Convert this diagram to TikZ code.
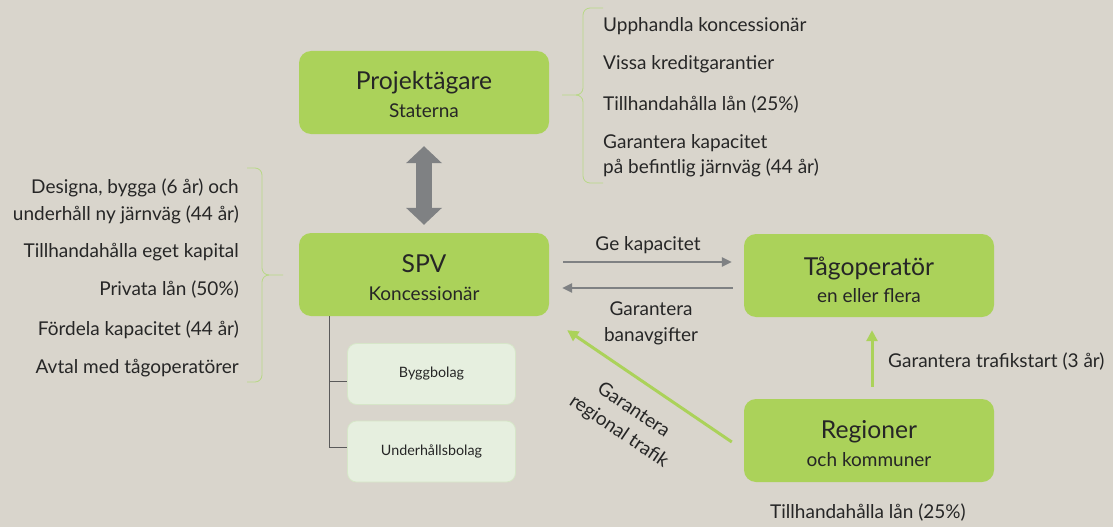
\documentclass[tikz,border=0pt]{standalone}
\usepackage{fontspec}
\setmainfont{Lato}
\usetikzlibrary{arrows.meta}
\definecolor{bgc}{HTML}{D9D5CC}
\definecolor{gfill}{HTML}{ABD25A}
\definecolor{lfill}{HTML}{E6EFDF}
\definecolor{lline}{HTML}{D6E6C8}
\definecolor{arrgray}{HTML}{7F8183}
\definecolor{brc}{HTML}{B8D886}
\definecolor{txt}{HTML}{262626}
\definecolor{treec}{HTML}{5A5A5A}
\tikzset{
  gbox/.style={fill=gfill, rounded corners=12pt, minimum width=250pt, minimum height=83pt, inner sep=0pt},
  lbox/.style={fill=lfill, draw=lline, line width=0.8pt, rounded corners=9pt, minimum width=168pt, minimum height=61pt, inner sep=0pt, text=txt, font=\fontsize{14.3}{17}\selectfont},
  ttl/.style={anchor=base, text=txt, font=\fontsize{24.7}{28}\selectfont, inner sep=0pt},
  sbt/.style={anchor=base, text=txt, font=\fontsize{19}{22}\selectfont, inner sep=0pt},
  body/.style={text=txt, font=\fontsize{19}{26}\selectfont, inner sep=0pt},
  grayarr/.style={draw=arrgray, line width=2.5pt, -{Triangle[width=9pt,length=10pt]}},
  greenarr/.style={draw=gfill, line width=3pt, -{Triangle[width=11pt,length=11pt]}},
  bigarr/.style={draw=arrgray, fill=arrgray, line width=16pt, {Triangle[width=35pt,length=17pt]}-{Triangle[width=35pt,length=17pt]}},
  bracel/.style={draw=brc, line width=0.8pt},
  treel/.style={draw=treec, line width=0.8pt}
}
\begin{document}
\begin{tikzpicture}[x=1pt,y=-1pt]
\fill[bgc] (0,0) rectangle (1113,527);
\useasboundingbox (0,0) rectangle (1113,527);

% main boxes
\node[gbox] (proj) at (424,92.5) {};
\node[ttl] (projt) at (424,89) {Projektägare};
\node[sbt] (projs) at (424,117) {Staterna};

\node[gbox] (spv) at (424,274.5) {};
\node[ttl] (spvt) at (424,272) {SPV};
\node[sbt] (spvs) at (424,300) {Koncessionär};

\node[gbox] (tag) at (869,275.5) {};
\node[ttl] (tagt) at (869,275) {Tågoperatör};
\node[sbt] (tags) at (869,302) {en eller flera};

\node[gbox] (reg) at (869,440.5) {};
\node[ttl] (regt) at (869,438) {Regioner};
\node[sbt] (regs) at (869,466) {och kommuner};

% sub boxes
\node[lbox] (bygg) at (431.5,374) {Byggbolag};
\node[lbox] (under) at (431.5,451.5) {Underhållsbolag};

% tree
\draw[treel] ([xshift=31pt]spv.south west) |- ([yshift=-7pt]bygg.west);
\draw[treel] ([xshift=31pt]spv.south west) |- ([yshift=4.5pt]under.west);

% big double arrow
\draw[bigarr] ([yshift=-12pt]proj.south) -- ([yshift=8pt]spv.north);

% gray arrows
\draw[grayarr] ([xshift=14pt,yshift=12.5pt]spv.east) -- ([xshift=-12pt,yshift=13.5pt]tag.west);
\node[body, anchor=base] (gek) at (648,250) {Ge kapacitet};
\draw[grayarr] ([xshift=-11pt,yshift=-12.5pt]tag.west) -- ([xshift=13pt,yshift=-13.5pt]spv.east);
\node[body, align=center] (gban) at (651,323) {Garantera\\banavgifter};

% green arrows
\draw[greenarr] ([xshift=-12pt,yshift=-1.5pt]reg.west) -- ([xshift=18pt,yshift=-14pt]spv.south east);
\node[body, rotate=-34, align=center] (greg) at (626,421) {Garantera\\regional trafik};
\draw[greenarr] ([xshift=3pt,yshift=12pt]reg.north) -- ([xshift=3pt,yshift=-13pt]tag.south);
\node[body, anchor=base west] (gtraf) at (888,367) {Garantera trafikstart (3 år)};
\node[body, anchor=base] (rlan) at (868,518) {Tillhandahålla lån (25\%)};

% right brace (Projektägare)
\draw[bracel] (603,8) -- (590,8) to[out=180,in=90] (583,15) -- (583,88)
  to[out=-90,in=0] (576,95) -- (562,95);
\draw[bracel] (576,95) to[out=0,in=90] (583,102) -- (583,176)
  to[out=-90,in=180] (590,183) -- (603,183);
\node[body, anchor=base west] (r1) at (603,32) {Upphandla koncessionär};
\node[body, anchor=base west] (r2) at (603,70) {Vissa kreditgarantier};
\node[body, anchor=base west] (r3) at (603,110) {Tillhandahålla lån (25\%)};
\node[body, anchor=base west] (r4) at (603,148) {Garantera kapacitet};
\node[body, anchor=base west] (r5) at (603,173) {på befintlig järnväg (44 år)};

% left brace (SPV)
\draw[bracel] (247,168) -- (255,168) to[out=0,in=90] (262,175) -- (262,268)
  to[out=-90,in=180] (269,275) -- (283,275);
\draw[bracel] (269,275) to[out=180,in=90] (262,282) -- (262,375)
  to[out=-90,in=0] (255,382) -- (247,382);
\node[body, anchor=base east] (l1) at (239,193) {Designa, bygga (6 år) och};
\node[body, anchor=base east] (l2) at (239,220) {underhåll ny järnväg (44 år)};
\node[body, anchor=base east] (l3) at (239,257) {Tillhandahålla eget kapital};
\node[body, anchor=base east] (l4) at (239,295) {Privata lån (50\%)};
\node[body, anchor=base east] (l5) at (239,335) {Fördela kapacitet (44 år)};
\node[body, anchor=base east] (l6) at (239,373) {Avtal med tågoperatörer};
\end{tikzpicture}
\end{document}
